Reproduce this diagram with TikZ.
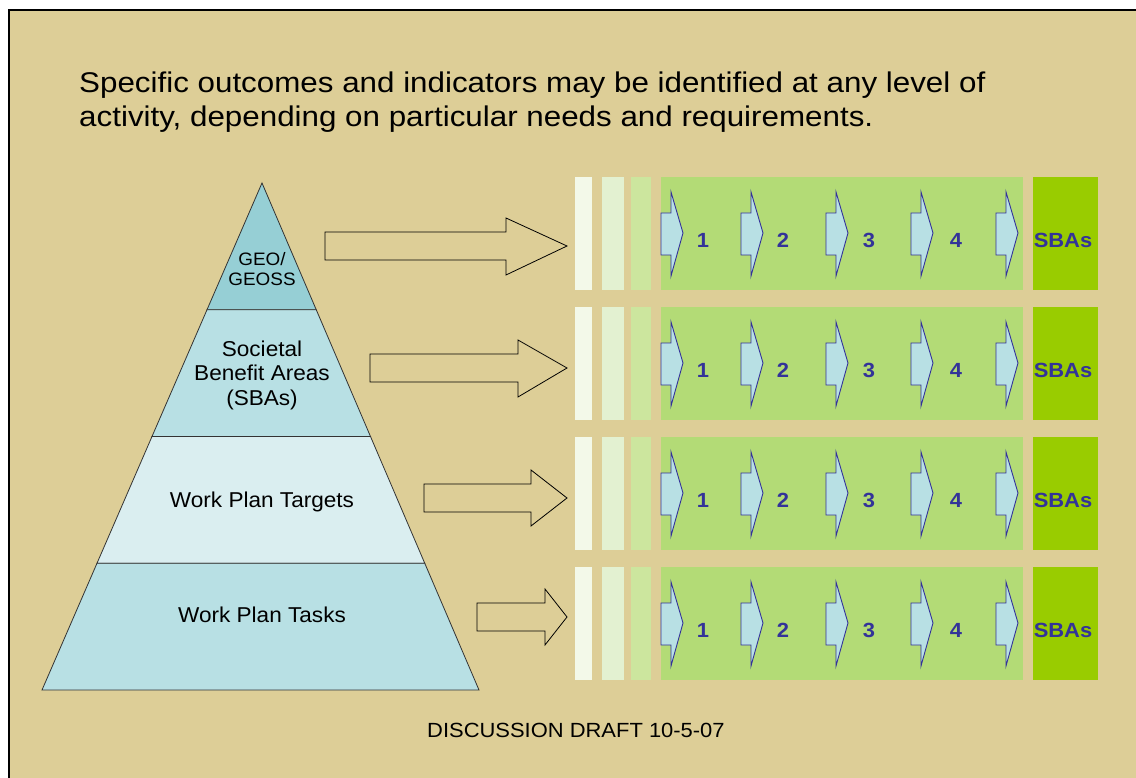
\documentclass[tikz,border=0pt]{standalone}
\usepackage{fontspec}
\setmainfont{Liberation Sans}
\usetikzlibrary{calc}

\definecolor{bgtan}{RGB}{221,206,151}
\definecolor{pyrtop}{RGB}{150,207,213}
\definecolor{pyrmid}{RGB}{184,224,228}
\definecolor{pyrlight}{RGB}{218,238,240}
\definecolor{stripa}{RGB}{243,249,233}
\definecolor{stripb}{RGB}{227,241,209}
\definecolor{stripc}{RGB}{204,230,158}
\definecolor{rowgreen}{RGB}{179,219,118}
\definecolor{sbagreen}{RGB}{153,204,0}
\definecolor{chevfill}{RGB}{184,224,228}
\definecolor{chevblue}{RGB}{51,51,153}

\tikzset{
  band/.style={draw=black!80, line width=0.8pt},
  blockarrow/.style={draw=black, line width=0.8pt, fill=bgtan},
  chev/.style={draw=chevblue, line width=0.9pt, fill=chevfill},
  rowlabel/.style={font=\fontsize{20.5}{24}\selectfont\bfseries, text=chevblue, inner sep=0pt, xscale=1.07},
  pyrlabel/.style={font=\fontsize{21.5}{24.5}\selectfont, align=center, inner sep=0pt, xscale=1.05},
  heading/.style={font=\fontsize{28.5}{34}\selectfont, inner sep=0pt, xscale=1.1},
  footer/.style={font=\fontsize{20.5}{24}\selectfont, inner sep=0pt, xscale=1.07}
}

\begin{document}
\begin{tikzpicture}[x=1pt, y=-1pt]
\useasboundingbox (0,0) rectangle (1136,778);
\clip (0,0) rectangle (1136,778);
\fill[white] (0,0) rectangle (1136,778);
\draw[fill=bgtan, line width=2pt] (8.5,10.5) rectangle (1140,785);

% heading
\node[heading, anchor=base west] (head1) at (79,93) {Specific outcomes and indicators may be identified at any level of};
\node[heading, anchor=base west] (head2) at (79,127) {activity, depending on particular needs and requirements.};

% pyramid
\coordinate (apex) at (262,183);
\coordinate (bl) at (42,690);
\coordinate (br) at (479,690);
\foreach \a/\b/\c in {0/0.25/pyrtop, 0.25/0.5/pyrmid, 0.5/0.75/pyrlight, 0.75/1/pyrmid}
  \filldraw[band, fill=\c] ($(apex)!\a!(bl)$) -- ($(apex)!\b!(bl)$) -- ($(apex)!\b!(br)$) -- ($(apex)!\a!(br)$) -- cycle;
\node[pyrlabel, font=\fontsize{18}{20}\selectfont, anchor=base] (geo) at (262,286) {GEO/\\GEOSS};
\node[pyrlabel, anchor=base] (sba) at (262,405) {Societal\\Benefit Areas\\(SBAs)};
\node[pyrlabel, anchor=base] (targets) at (262,507) {Work Plan Targets};
\node[pyrlabel, anchor=base] (tasks) at (262,622) {Work Plan Tasks};

% block arrows
\draw[blockarrow] (325,232) -- (506,232) -- (506,218) -- (567,246) -- (506,275) -- (506,260) -- (325,260) -- cycle;
\draw[blockarrow] (370,354) -- (518,354) -- (518,340) -- (567,368) -- (518,397) -- (518,382) -- (370,382) -- cycle;
\draw[blockarrow] (424,484) -- (531,484) -- (531,470) -- (567,498) -- (531,526) -- (531,512) -- (424,512) -- cycle;
\draw[blockarrow] (477,603) -- (545,603) -- (545,589) -- (567,617) -- (545,645) -- (545,631) -- (477,631) -- cycle;

% rows
\foreach \y in {177,307,437,567} {
  \fill[stripa] (575,\y) rectangle (592,\y+113);
  \fill[stripb] (602,\y) rectangle (624,\y+113);
  \fill[stripc] (631,\y) rectangle (651,\y+113);
  \fill[rowgreen] (661,\y) rectangle (1023,\y+113);
  \fill[sbagreen] (1033,\y) rectangle (1098,\y+113);
  \foreach \x in {661,741,826,911,996}
    \draw[chev] (\x,\y+36) -- (\x+10,\y+36) -- (\x+10,\y+15) -- (\x+22,\y+56) -- (\x+10,\y+99) -- (\x+10,\y+78) -- (\x,\y+78) -- cycle;
  \foreach \n/\x in {1/703,2/783,3/869,4/956}
    \node[rowlabel] (num\n-\y) at (\x,\y+63) {\n};
  \node[rowlabel] (sbas\y) at (1063,\y+63) {SBAs};
}

% footer
\node[footer, anchor=base west] (draft) at (427,737) {DISCUSSION DRAFT 10-5-07};
\end{tikzpicture}
\end{document}
